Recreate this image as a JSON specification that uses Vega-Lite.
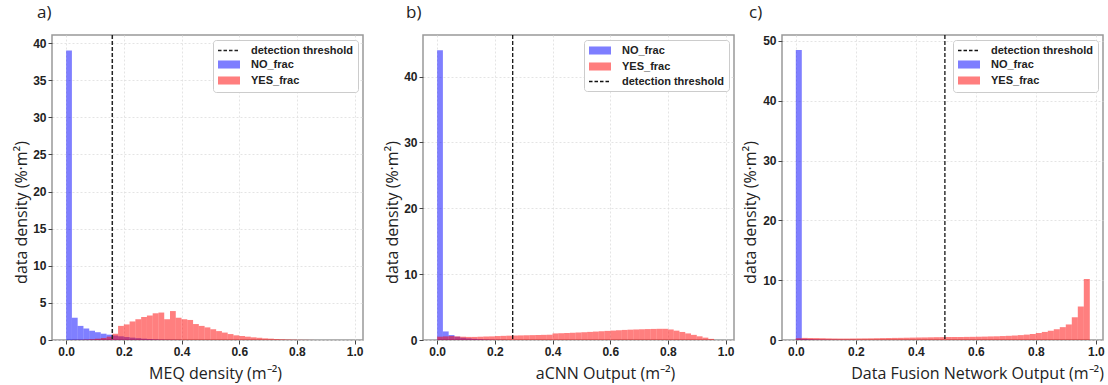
{
"$schema": "https://vega.github.io/schema/vega-lite/v6.json",
"padding": {"left": 12, "top": 3, "right": 2, "bottom": 2},
"background": "white",
"datasets": {
"a": [
{"series":"NO_frac","x0":0.00,"x1":0.02,"y":39},
{"series":"NO_frac","x0":0.02,"x1":0.04,"y":3.0},
{"series":"NO_frac","x0":0.04,"x1":0.06,"y":1.9},
{"series":"NO_frac","x0":0.06,"x1":0.08,"y":1.55},
{"series":"NO_frac","x0":0.08,"x1":0.10,"y":1.25},
{"series":"NO_frac","x0":0.10,"x1":0.12,"y":1.05},
{"series":"NO_frac","x0":0.12,"x1":0.14,"y":0.85},
{"series":"NO_frac","x0":0.14,"x1":0.16,"y":0.72},
{"series":"NO_frac","x0":0.16,"x1":0.18,"y":0.6},
{"series":"NO_frac","x0":0.18,"x1":0.20,"y":0.5},
{"series":"NO_frac","x0":0.20,"x1":0.22,"y":0.4},
{"series":"NO_frac","x0":0.22,"x1":0.24,"y":0.32},
{"series":"NO_frac","x0":0.24,"x1":0.26,"y":0.25},
{"series":"NO_frac","x0":0.26,"x1":0.28,"y":0.18},
{"series":"NO_frac","x0":0.28,"x1":0.30,"y":0.13},
{"series":"NO_frac","x0":0.30,"x1":0.32,"y":0.09},
{"series":"NO_frac","x0":0.32,"x1":0.34,"y":0.06},
{"series":"NO_frac","x0":0.34,"x1":0.36,"y":0.04},
{"series":"NO_frac","x0":0.36,"x1":0.38,"y":0.03},
{"series":"NO_frac","x0":0.38,"x1":0.40,"y":0.02},
{"series":"YES_frac","x0":0.02,"x1":0.04,"y":0.02},
{"series":"YES_frac","x0":0.04,"x1":0.06,"y":0.03},
{"series":"YES_frac","x0":0.06,"x1":0.08,"y":0.06},
{"series":"YES_frac","x0":0.08,"x1":0.10,"y":0.1},
{"series":"YES_frac","x0":0.10,"x1":0.12,"y":0.17},
{"series":"YES_frac","x0":0.12,"x1":0.14,"y":0.27},
{"series":"YES_frac","x0":0.14,"x1":0.16,"y":0.45},
{"series":"YES_frac","x0":0.16,"x1":0.18,"y":0.85},
{"series":"YES_frac","x0":0.18,"x1":0.20,"y":1.9},
{"series":"YES_frac","x0":0.20,"x1":0.22,"y":2.1},
{"series":"YES_frac","x0":0.22,"x1":0.24,"y":2.5},
{"series":"YES_frac","x0":0.24,"x1":0.26,"y":2.8},
{"series":"YES_frac","x0":0.26,"x1":0.28,"y":3.1},
{"series":"YES_frac","x0":0.28,"x1":0.30,"y":3.3},
{"series":"YES_frac","x0":0.30,"x1":0.32,"y":3.6},
{"series":"YES_frac","x0":0.32,"x1":0.34,"y":3.7},
{"series":"YES_frac","x0":0.34,"x1":0.36,"y":2.8},
{"series":"YES_frac","x0":0.36,"x1":0.38,"y":3.9},
{"series":"YES_frac","x0":0.38,"x1":0.40,"y":3.0},
{"series":"YES_frac","x0":0.40,"x1":0.42,"y":2.8},
{"series":"YES_frac","x0":0.42,"x1":0.44,"y":2.7},
{"series":"YES_frac","x0":0.44,"x1":0.46,"y":2.15},
{"series":"YES_frac","x0":0.46,"x1":0.48,"y":1.9},
{"series":"YES_frac","x0":0.48,"x1":0.50,"y":1.7},
{"series":"YES_frac","x0":0.50,"x1":0.52,"y":1.45},
{"series":"YES_frac","x0":0.52,"x1":0.54,"y":1.2},
{"series":"YES_frac","x0":0.54,"x1":0.56,"y":1.0},
{"series":"YES_frac","x0":0.56,"x1":0.58,"y":0.8},
{"series":"YES_frac","x0":0.58,"x1":0.60,"y":0.63},
{"series":"YES_frac","x0":0.60,"x1":0.62,"y":0.54},
{"series":"YES_frac","x0":0.62,"x1":0.64,"y":0.45},
{"series":"YES_frac","x0":0.64,"x1":0.66,"y":0.36},
{"series":"YES_frac","x0":0.66,"x1":0.68,"y":0.3},
{"series":"YES_frac","x0":0.68,"x1":0.70,"y":0.22},
{"series":"YES_frac","x0":0.70,"x1":0.72,"y":0.18},
{"series":"YES_frac","x0":0.72,"x1":0.74,"y":0.13},
{"series":"YES_frac","x0":0.74,"x1":0.76,"y":0.1},
{"series":"YES_frac","x0":0.76,"x1":0.78,"y":0.07},
{"series":"YES_frac","x0":0.78,"x1":0.80,"y":0.05},
{"series":"YES_frac","x0":0.80,"x1":0.82,"y":0.03},
{"series":"YES_frac","x0":0.82,"x1":0.84,"y":0.02},
{"series":"YES_frac","x0":0.84,"x1":0.86,"y":0.01},
{"series":"detection threshold","x0":0.16,"x1":0.16,"y":0}
],
"b": [
{"series":"NO_frac","x0":0.00,"x1":0.02,"y":44},
{"series":"NO_frac","x0":0.02,"x1":0.04,"y":1.3},
{"series":"NO_frac","x0":0.04,"x1":0.06,"y":0.75},
{"series":"NO_frac","x0":0.06,"x1":0.08,"y":0.5},
{"series":"NO_frac","x0":0.08,"x1":0.10,"y":0.35},
{"series":"NO_frac","x0":0.10,"x1":0.12,"y":0.25},
{"series":"NO_frac","x0":0.12,"x1":0.14,"y":0.18},
{"series":"NO_frac","x0":0.14,"x1":0.16,"y":0.12},
{"series":"NO_frac","x0":0.16,"x1":0.18,"y":0.08},
{"series":"NO_frac","x0":0.18,"x1":0.20,"y":0.05},
{"series":"NO_frac","x0":0.20,"x1":0.22,"y":0.03},
{"series":"NO_frac","x0":0.22,"x1":0.24,"y":0.02},
{"series":"YES_frac","x0":0.00,"x1":0.02,"y":0.5},
{"series":"YES_frac","x0":0.02,"x1":0.04,"y":0.55},
{"series":"YES_frac","x0":0.04,"x1":0.06,"y":0.6},
{"series":"YES_frac","x0":0.06,"x1":0.08,"y":0.55},
{"series":"YES_frac","x0":0.08,"x1":0.10,"y":0.5},
{"series":"YES_frac","x0":0.10,"x1":0.12,"y":0.47},
{"series":"YES_frac","x0":0.12,"x1":0.14,"y":0.47},
{"series":"YES_frac","x0":0.14,"x1":0.16,"y":0.5},
{"series":"YES_frac","x0":0.16,"x1":0.18,"y":0.52},
{"series":"YES_frac","x0":0.18,"x1":0.20,"y":0.55},
{"series":"YES_frac","x0":0.20,"x1":0.22,"y":0.6},
{"series":"YES_frac","x0":0.22,"x1":0.24,"y":0.63},
{"series":"YES_frac","x0":0.24,"x1":0.26,"y":0.66},
{"series":"YES_frac","x0":0.26,"x1":0.28,"y":0.68},
{"series":"YES_frac","x0":0.28,"x1":0.30,"y":0.7},
{"series":"YES_frac","x0":0.30,"x1":0.32,"y":0.72},
{"series":"YES_frac","x0":0.32,"x1":0.34,"y":0.74},
{"series":"YES_frac","x0":0.34,"x1":0.36,"y":0.76},
{"series":"YES_frac","x0":0.36,"x1":0.38,"y":0.78},
{"series":"YES_frac","x0":0.38,"x1":0.40,"y":0.8},
{"series":"YES_frac","x0":0.40,"x1":0.42,"y":1.0},
{"series":"YES_frac","x0":0.42,"x1":0.44,"y":1.03},
{"series":"YES_frac","x0":0.44,"x1":0.46,"y":1.06},
{"series":"YES_frac","x0":0.46,"x1":0.48,"y":1.1},
{"series":"YES_frac","x0":0.48,"x1":0.50,"y":1.14},
{"series":"YES_frac","x0":0.50,"x1":0.52,"y":1.18},
{"series":"YES_frac","x0":0.52,"x1":0.54,"y":1.23},
{"series":"YES_frac","x0":0.54,"x1":0.56,"y":1.28},
{"series":"YES_frac","x0":0.56,"x1":0.58,"y":1.33},
{"series":"YES_frac","x0":0.58,"x1":0.60,"y":1.38},
{"series":"YES_frac","x0":0.60,"x1":0.62,"y":1.43},
{"series":"YES_frac","x0":0.62,"x1":0.64,"y":1.48},
{"series":"YES_frac","x0":0.64,"x1":0.66,"y":1.53},
{"series":"YES_frac","x0":0.66,"x1":0.68,"y":1.57},
{"series":"YES_frac","x0":0.68,"x1":0.70,"y":1.6},
{"series":"YES_frac","x0":0.70,"x1":0.72,"y":1.63},
{"series":"YES_frac","x0":0.72,"x1":0.74,"y":1.66},
{"series":"YES_frac","x0":0.74,"x1":0.76,"y":1.68},
{"series":"YES_frac","x0":0.76,"x1":0.78,"y":1.7},
{"series":"YES_frac","x0":0.78,"x1":0.80,"y":1.7},
{"series":"YES_frac","x0":0.80,"x1":0.82,"y":1.6},
{"series":"YES_frac","x0":0.82,"x1":0.84,"y":1.42},
{"series":"YES_frac","x0":0.84,"x1":0.86,"y":1.22},
{"series":"YES_frac","x0":0.86,"x1":0.88,"y":1.0},
{"series":"YES_frac","x0":0.88,"x1":0.90,"y":0.78},
{"series":"YES_frac","x0":0.90,"x1":0.92,"y":0.56},
{"series":"YES_frac","x0":0.92,"x1":0.94,"y":0.36},
{"series":"YES_frac","x0":0.94,"x1":0.96,"y":0.17},
{"series":"detection threshold","x0":0.262,"x1":0.262,"y":0}
],
"c": [
{"series":"NO_frac","x0":0.00,"x1":0.02,"y":48.5},
{"series":"NO_frac","x0":0.02,"x1":0.04,"y":0.2},
{"series":"NO_frac","x0":0.04,"x1":0.06,"y":0.12},
{"series":"NO_frac","x0":0.06,"x1":0.08,"y":0.08},
{"series":"NO_frac","x0":0.08,"x1":0.10,"y":0.06},
{"series":"NO_frac","x0":0.10,"x1":0.12,"y":0.05},
{"series":"NO_frac","x0":0.12,"x1":0.14,"y":0.04},
{"series":"NO_frac","x0":0.14,"x1":0.16,"y":0.03},
{"series":"NO_frac","x0":0.16,"x1":0.18,"y":0.02},
{"series":"NO_frac","x0":0.18,"x1":0.20,"y":0.02},
{"series":"YES_frac","x0":0.00,"x1":0.02,"y":0.3},
{"series":"YES_frac","x0":0.02,"x1":0.04,"y":0.35},
{"series":"YES_frac","x0":0.04,"x1":0.06,"y":0.33},
{"series":"YES_frac","x0":0.06,"x1":0.08,"y":0.32},
{"series":"YES_frac","x0":0.08,"x1":0.10,"y":0.3},
{"series":"YES_frac","x0":0.10,"x1":0.12,"y":0.27},
{"series":"YES_frac","x0":0.12,"x1":0.14,"y":0.25},
{"series":"YES_frac","x0":0.14,"x1":0.16,"y":0.24},
{"series":"YES_frac","x0":0.16,"x1":0.18,"y":0.24},
{"series":"YES_frac","x0":0.18,"x1":0.20,"y":0.25},
{"series":"YES_frac","x0":0.20,"x1":0.22,"y":0.26},
{"series":"YES_frac","x0":0.22,"x1":0.24,"y":0.27},
{"series":"YES_frac","x0":0.24,"x1":0.26,"y":0.28},
{"series":"YES_frac","x0":0.26,"x1":0.28,"y":0.3},
{"series":"YES_frac","x0":0.28,"x1":0.30,"y":0.32},
{"series":"YES_frac","x0":0.30,"x1":0.32,"y":0.33},
{"series":"YES_frac","x0":0.32,"x1":0.34,"y":0.35},
{"series":"YES_frac","x0":0.34,"x1":0.36,"y":0.36},
{"series":"YES_frac","x0":0.36,"x1":0.38,"y":0.38},
{"series":"YES_frac","x0":0.38,"x1":0.40,"y":0.4},
{"series":"YES_frac","x0":0.40,"x1":0.42,"y":0.42},
{"series":"YES_frac","x0":0.42,"x1":0.44,"y":0.43},
{"series":"YES_frac","x0":0.44,"x1":0.46,"y":0.45},
{"series":"YES_frac","x0":0.46,"x1":0.48,"y":0.47},
{"series":"YES_frac","x0":0.48,"x1":0.50,"y":0.48},
{"series":"YES_frac","x0":0.50,"x1":0.52,"y":0.5},
{"series":"YES_frac","x0":0.52,"x1":0.54,"y":0.5},
{"series":"YES_frac","x0":0.54,"x1":0.56,"y":0.5},
{"series":"YES_frac","x0":0.56,"x1":0.58,"y":0.52},
{"series":"YES_frac","x0":0.58,"x1":0.60,"y":0.53},
{"series":"YES_frac","x0":0.60,"x1":0.62,"y":0.55},
{"series":"YES_frac","x0":0.62,"x1":0.64,"y":0.57},
{"series":"YES_frac","x0":0.64,"x1":0.66,"y":0.6},
{"series":"YES_frac","x0":0.66,"x1":0.68,"y":0.62},
{"series":"YES_frac","x0":0.68,"x1":0.70,"y":0.66},
{"series":"YES_frac","x0":0.70,"x1":0.72,"y":0.7},
{"series":"YES_frac","x0":0.72,"x1":0.74,"y":0.75},
{"series":"YES_frac","x0":0.74,"x1":0.76,"y":0.82},
{"series":"YES_frac","x0":0.76,"x1":0.78,"y":0.9},
{"series":"YES_frac","x0":0.78,"x1":0.80,"y":1.0},
{"series":"YES_frac","x0":0.80,"x1":0.82,"y":1.15},
{"series":"YES_frac","x0":0.82,"x1":0.84,"y":1.35},
{"series":"YES_frac","x0":0.84,"x1":0.86,"y":1.55},
{"series":"YES_frac","x0":0.86,"x1":0.88,"y":1.8},
{"series":"YES_frac","x0":0.88,"x1":0.90,"y":2.15},
{"series":"YES_frac","x0":0.90,"x1":0.92,"y":2.6},
{"series":"YES_frac","x0":0.92,"x1":0.94,"y":3.8},
{"series":"YES_frac","x0":0.94,"x1":0.96,"y":5.6},
{"series":"YES_frac","x0":0.96,"x1":0.98,"y":10.2},
{"series":"detection threshold","x0":0.497,"x1":0.497,"y":0}
]
},
"hconcat": [
{
"hconcat": [
{
"width": 311, "height": 305,
"title": {"text": "a)", "dx": -15},
"data": {"name": "a"},
"layer": [
{
"mark": {"type": "bar", "opacity": 0.5},
"transform": [{"filter": "datum.series !== 'detection threshold'"}],
"encoding": {
"x": {"field": "x0", "type": "quantitative", "scale": {"domain": [-0.049, 1.029], "nice": false, "zero": false}, "axis": {"values": [0, 0.2, 0.4, 0.6, 0.8, 1.0], "format": ".1f", "title": "MEQ density (m⁻²)", "titleX": 163}},
"x2": {"field": "x1"},
"y": {"field": "y", "type": "quantitative", "scale": {"domain": [0, 41.1], "nice": false}, "axis": {"values": [0, 5, 10, 15, 20, 25, 30, 35, 40], "title": "data density (%·m²)", "titleX": -31}},
"y2": {"datum": 0},
"color": {"field": "series", "type": "nominal", "scale": {"domain": ["detection threshold", "NO_frac", "YES_frac"], "range": ["#222222", "blue", "red"]},
"legend": {"title": null, "encoding": {"symbols": {
"shape": {"value": {"expr": "datum.value === 'detection threshold' ? 'M-1,0H3' : 'M-1,-0.73H3V0.73H-1Z'"}},
"stroke": {"value": {"expr": "datum.value === 'detection threshold' ? '#222222' : 'transparent'"}},
"strokeDash": {"value": {"expr": "datum.value === 'detection threshold' ? [3.5, 2] : [1, 0]"}},
"strokeWidth": {"value": 1.5},
"opacity": {"value": {"expr": "datum.value === 'detection threshold' ? 1 : 0.5"}}
}}}}
}
},
{
"mark": {"type": "rule", "strokeDash": [4, 2], "strokeWidth": 1.5, "color": "#222222"},
"transform": [{"filter": "datum.series === 'detection threshold'"}],
"encoding": {
"x": {"field": "x0", "type": "quantitative"}
}
}
]
},
{
"width": 311, "height": 305,
"title": {"text": "b)", "dx": -17},
"data": {"name": "b"},
"layer": [
{
"mark": {"type": "bar", "opacity": 0.5},
"transform": [{"filter": "datum.series !== 'detection threshold'"}],
"encoding": {
"x": {"field": "x0", "type": "quantitative", "scale": {"domain": [-0.049, 1.029], "nice": false, "zero": false}, "axis": {"values": [0, 0.2, 0.4, 0.6, 0.8, 1.0], "format": ".1f", "title": "aCNN Output (m⁻²)", "titleX": 182}},
"x2": {"field": "x1"},
"y": {"field": "y", "type": "quantitative", "scale": {"domain": [0, 46.3], "nice": false}, "axis": {"values": [0, 10, 20, 30, 40], "title": "data density (%·m²)", "titleX": -31}},
"y2": {"datum": 0},
"color": {"field": "series", "type": "nominal", "scale": {"domain": ["NO_frac", "YES_frac", "detection threshold"], "range": ["blue", "red", "black"]},
"legend": {"title": null, "encoding": {"symbols": {
"shape": {"value": {"expr": "datum.value === 'detection threshold' ? 'M-1,0H3' : 'M-1,-0.73H3V0.73H-1Z'"}},
"stroke": {"value": {"expr": "datum.value === 'detection threshold' ? '#111111' : 'transparent'"}},
"strokeDash": {"value": {"expr": "datum.value === 'detection threshold' ? [3.5, 2] : [1, 0]"}},
"strokeWidth": {"value": 1.3},
"opacity": {"value": {"expr": "datum.value === 'detection threshold' ? 1 : 0.5"}}
}}}}
}
},
{
"mark": {"type": "rule", "strokeDash": [4, 2], "strokeWidth": 1.2, "color": "black"},
"transform": [{"filter": "datum.series === 'detection threshold'"}],
"encoding": {
"x": {"field": "x0", "type": "quantitative"}
}
}
]
}
],
"spacing": 19,
"resolve": {"scale": {"color": "independent"}, "legend": {"color": "independent"}}
},
{
"width": 321, "height": 305,
"title": {"text": "c)", "dx": -33},
"data": {"name": "c"},
"layer": [
{
"mark": {"type": "bar", "opacity": 0.5},
"transform": [{"filter": "datum.series !== 'detection threshold'"}],
"encoding": {
"x": {"field": "x0", "type": "quantitative", "scale": {"domain": [-0.046, 1.024], "nice": false, "zero": false}, "axis": {"values": [0, 0.2, 0.4, 0.6, 0.8, 1.0], "format": ".1f", "title": "Data Fusion Network Output (m⁻²)", "titleX": 195}},
"x2": {"field": "x1"},
"y": {"field": "y", "type": "quantitative", "scale": {"domain": [0, 51], "nice": false}, "axis": {"values": [0, 10, 20, 30, 40, 50], "title": "data density (%·m²)", "titleX": -32}},
"y2": {"datum": 0},
"color": {"field": "series", "type": "nominal", "scale": {"domain": ["detection threshold", "NO_frac", "YES_frac"], "range": ["black", "blue", "red"]},
"legend": {"title": null, "encoding": {"symbols": {
"shape": {"value": {"expr": "datum.value === 'detection threshold' ? 'M-1,0H3' : 'M-1,-0.73H3V0.73H-1Z'"}},
"stroke": {"value": {"expr": "datum.value === 'detection threshold' ? '#111111' : 'transparent'"}},
"strokeDash": {"value": {"expr": "datum.value === 'detection threshold' ? [3.5, 2] : [1, 0]"}},
"strokeWidth": {"value": 1.3},
"opacity": {"value": {"expr": "datum.value === 'detection threshold' ? 1 : 0.5"}}
}}}}
}
},
{
"mark": {"type": "rule", "strokeDash": [4, 2], "strokeWidth": 1.2, "color": "black"},
"transform": [{"filter": "datum.series === 'detection threshold'"}],
"encoding": {
"x": {"field": "x0", "type": "quantitative"}
}
}
]
}
],
"spacing": 6,
"resolve": {"scale": {"color": "independent"}, "legend": {"color": "independent"}},
"config": {
"view": {"stroke": "#999999", "strokeWidth": 1.5},
"title": {"font": "Open Sans", "fontSize": 17, "fontWeight": "normal", "anchor": "start", "frame": "group", "offset": 12, "color": "#222222"},
"axis": {
"labelFont": "Liberation Sans", "labelFontWeight": "bold", "labelFontSize": 12, "labelColor": "#222222", "labelPadding": 2,
"titleFont": "Open Sans", "titleFontSize": 16, "titleFontWeight": "normal", "titleColor": "#222222",
"gridColor": "#dddddd", "gridDash": [2, 2], "gridWidth": 0.8,
"tickColor": "#444444", "tickSize": 4, "tickWidth": 1, "domain": false
},
"axisX": {"titleY": 33, "titleBaseline": "middle", "titleAlign": "center", "labelFlush": false},
"axisY": {"titleY": 177, "titleBaseline": "middle", "titleAlign": "center"},
"legend": {
"orient": "top-right", "offset": 5,
"labelFont": "Liberation Sans", "labelFontWeight": "bold", "labelFontSize": 11, "labelColor": "#222222",
"fillColor": "white", "strokeColor": "#cccccc", "cornerRadius": 3, "padding": 4, "rowPadding": 1,
"symbolSize": 121, "labelOffset": 21
}
}
}
